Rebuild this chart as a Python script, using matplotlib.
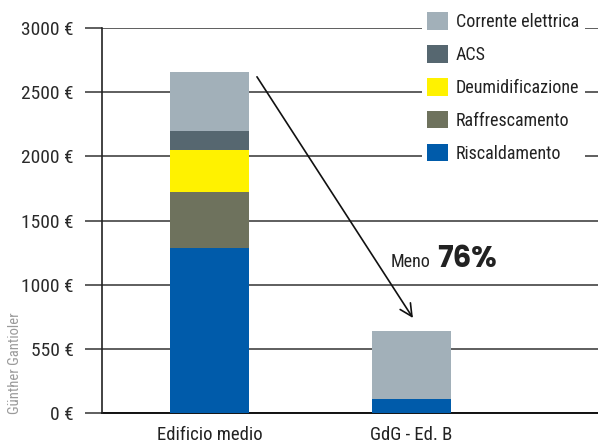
import matplotlib
matplotlib.use("Agg")
import matplotlib.pyplot as plt
from matplotlib.patches import Patch

# ---- data ----
categories = ["Edificio medio", "GdG - Ed. B"]
series_names = ["Riscaldamento", "Raffrescamento", "Deumidificazione", "ACS", "Corrente elettrica"]
riscaldamento = [1290, 110]
raffrescamento = [430, 0]
deumidificazione = [330, 0]
acs = [145, 0]
corrente = [465, 530]
series_values = [riscaldamento, raffrescamento, deumidificazione, acs, corrente]
series_colors = ["#005BAA", "#6E725D", "#FFF200", "#566770", "#A2B0B9"]
ytick_values = [0, 500, 1000, 1500, 2000, 2500, 3000]
ytick_labels = ["0 €", "550 €", "1000 €", "1500 €", "2000 €", "2500 €", "3000 €"]
arrow_start = (0.235, 2620)
arrow_end = (1.007, 742)
annot_small = "Meno"
annot_big = "76%"
credit = "Günther Gantioler"

FONT = ["Roboto Condensed", "DejaVu Sans"]
plt.rcParams["font.family"] = FONT

W, H = 598, 443
fig = plt.figure(figsize=(W / 100, H / 100), dpi=100)
left_px, right_px, bot_px, top_px = 102, 598, 413.3, 28
ax = fig.add_axes([left_px / W, (H - bot_px) / H, (right_px - left_px) / W, (bot_px - top_px) / H])

x = list(range(len(categories)))
bottoms = [0] * len(categories)
for name, vals, col in zip(series_names, series_values, series_colors):
    ax.bar(x, vals, width=0.391, bottom=bottoms, color=col, label=name, zorder=3)
    bottoms = [b + v for b, v in zip(bottoms, vals)]

ax.set_xlim(-0.532, 1.923)
ax.set_ylim(0, 3000)

ax.set_yticks(ytick_values)
ax.set_yticklabels(ytick_labels)
ax.yaxis.grid(True, color="#333333", linewidth=1.1, zorder=1)
ax.set_axisbelow(True)
ax.tick_params(axis="y", length=12.2, width=1.1, color="#333333", pad=8,
               labelsize=14, labelcolor="#2a2a2a")
ax.set_xticks(x)
ax.set_xticklabels(categories)
ax.tick_params(axis="x", length=0, pad=9, labelsize=13.5, labelcolor="#222222")

for s in ["top", "right"]:
    ax.spines[s].set_visible(False)
ax.spines["left"].set_color("#222222")
ax.spines["left"].set_linewidth(1.2)
ax.spines["bottom"].set_color("#111111")
ax.spines["bottom"].set_linewidth(1.4)
ax.spines["left"].set_zorder(4)

# arrow
ax.annotate("", xy=arrow_end, xytext=arrow_start,
            arrowprops=dict(arrowstyle="->", color="#111111", lw=1.2,
                            mutation_scale=22, shrinkA=0, shrinkB=0), zorder=5)
ax.text(0.899, 1139, annot_small, fontsize=13, color="#222222", va="baseline", ha="left")
ax.text(1.126, 1139, annot_big, fontsize=21, fontweight="bold", family=["Poppins", "DejaVu Sans"],
        color="#222222", va="baseline", ha="left")

# legend
handles = [Patch(facecolor=c, edgecolor="none") for c in series_colors][::-1]
labels = series_names[::-1]
leg = ax.legend(handles, labels, loc="upper left",
                bbox_to_anchor=(422 / W, 1 - 7 / H), bbox_transform=fig.transFigure,
                frameon=True, fancybox=False, framealpha=1, edgecolor="none",
                facecolor="white", fontsize=13, handlelength=1.15, handleheight=1.1,
                handletextpad=0.42, labelspacing=0.78, borderpad=0.3, borderaxespad=0)
for t in leg.get_texts():
    t.set_color("#222222")
leg.set_zorder(6)

fig.text(15 / W, 1 - 363 / H, credit, rotation=90, fontsize=10.5, color="#9a9a9a",
         ha="center", va="center")

fig.savefig("out.png", dpi=100)
